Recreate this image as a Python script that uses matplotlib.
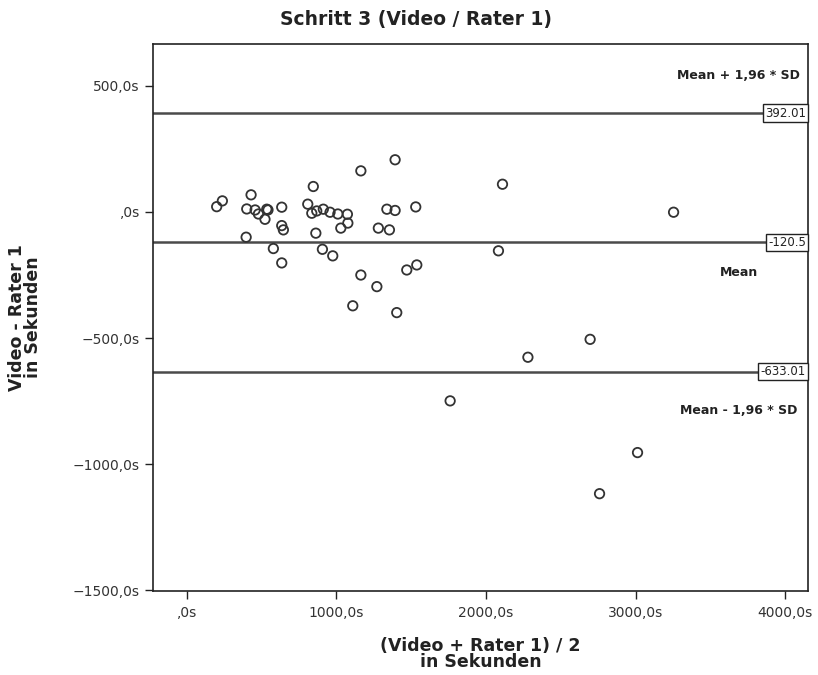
import matplotlib
matplotlib.use("Agg")
import matplotlib.pyplot as plt
from matplotlib.ticker import FuncFormatter

# Bland-Altman data: mean of both measurements vs. their difference (seconds)
mean_vals = [199, 237, 429, 396, 400, 456, 478, 522, 534, 542, 634, 634, 645,
             578, 634, 845, 808, 835, 868, 912, 957, 1009, 1073, 1076, 1029,
             862, 906, 975, 1163, 1392, 1337, 1392, 1530, 1280, 1354, 1163,
             1270, 1109, 1403, 1470, 1537, 2110, 3254, 2083, 2696, 2280,
             1760, 3013, 2759]
diff_vals = [21, 44, 68, -100, 12, 8, -8, -29, 11, 8, 19, -54, -71,
             -145, -202, 101, 31, -5, 4, 11, -1, -8, -9, -44, -64,
             -84, -148, -174, 163, 207, 11, 6, 20, -64, -71, -250,
             -296, -372, -399, -230, -210, 110, -1, -154, -505, -576,
             -749, -954, -1117]

# Reference lines: mean difference and limits of agreement
ref_values = [392.01, -120.5, -633.01]
ref_labels = ["392.01", "-120.5", "-633.01"]
ref_names = ["Mean + 1,96 * SD", "Mean", "Mean - 1,96 * SD"]
ref_name_y = [540, -240, -789]

x_ticks = [0, 1000, 2000, 3000, 4000]
y_ticks = [500, 0, -500, -1000, -1500]

plt.rcParams["font.family"] = ["DejaVu Sans"]

fig = plt.figure(figsize=(8.18, 6.75), dpi=100)
ax = fig.add_axes([0.187, 0.1244, 0.801, 0.8104])

ax.set_xlim(-227, 4154)
ax.set_ylim(-1503, 666)

line_col = "#4a4a4a"
for v in ref_values:
    ax.axhline(v, color=line_col, lw=1.8, zorder=1)

ax.scatter(mean_vals, diff_vals, s=46, facecolors="none",
           edgecolors="#333333", linewidths=1.3, zorder=3)

# value boxes at the right end of each reference line
for v, lab in zip(ref_values, ref_labels):
    ax.annotate(lab, xy=(1.0, v), xycoords=("axes fraction", "data"),
                xytext=(-1.5, 0), textcoords="offset points",
                ha="right", va="center", fontsize=8.5, color="#222222",
                bbox=dict(boxstyle="square,pad=0.2", fc="white",
                          ec="#222222", lw=1.0), zorder=4)

# names of the reference lines
for y, name in zip(ref_name_y, ref_names):
    ax.text(0.894, y, name, transform=ax.get_yaxis_transform(),
            ha="center", va="center", fontsize=9, fontweight="bold",
            color="#222222")


def sec_fmt(v, pos):
    s = f"{abs(v):.1f}".replace(".", ",")
    if s.startswith("0,"):
        s = s[1:]
    return ("\u2212" if v < 0 else "") + s + "s"


ax.set_xticks(x_ticks)
ax.set_yticks(y_ticks)
ax.xaxis.set_major_formatter(FuncFormatter(sec_fmt))
ax.yaxis.set_major_formatter(FuncFormatter(sec_fmt))
ax.tick_params(axis="both", direction="out", length=6, width=1.0,
               labelsize=10, colors="#222222", labelcolor="#333333")
ax.tick_params(axis="x", pad=5)

for sp in ax.spines.values():
    sp.set_color("#222222")
    sp.set_linewidth(1.2)

fig.text(0.509, 0.971, "Schritt 3 (Video / Rater 1)", ha="center",
         va="center", fontsize=13.5, fontweight="bold", color="#222222")
ax.set_xlabel("(Video + Rater 1) / 2\nin Sekunden", fontsize=12.5,
              fontweight="bold", color="#222222", linespacing=0.85,
              labelpad=12)
ax.set_ylabel("Video - Rater 1\nin Sekunden", fontsize=12.5,
              fontweight="bold", color="#222222", linespacing=0.85,
              labelpad=22)

fig.savefig("out.png", dpi=100, facecolor="white")
